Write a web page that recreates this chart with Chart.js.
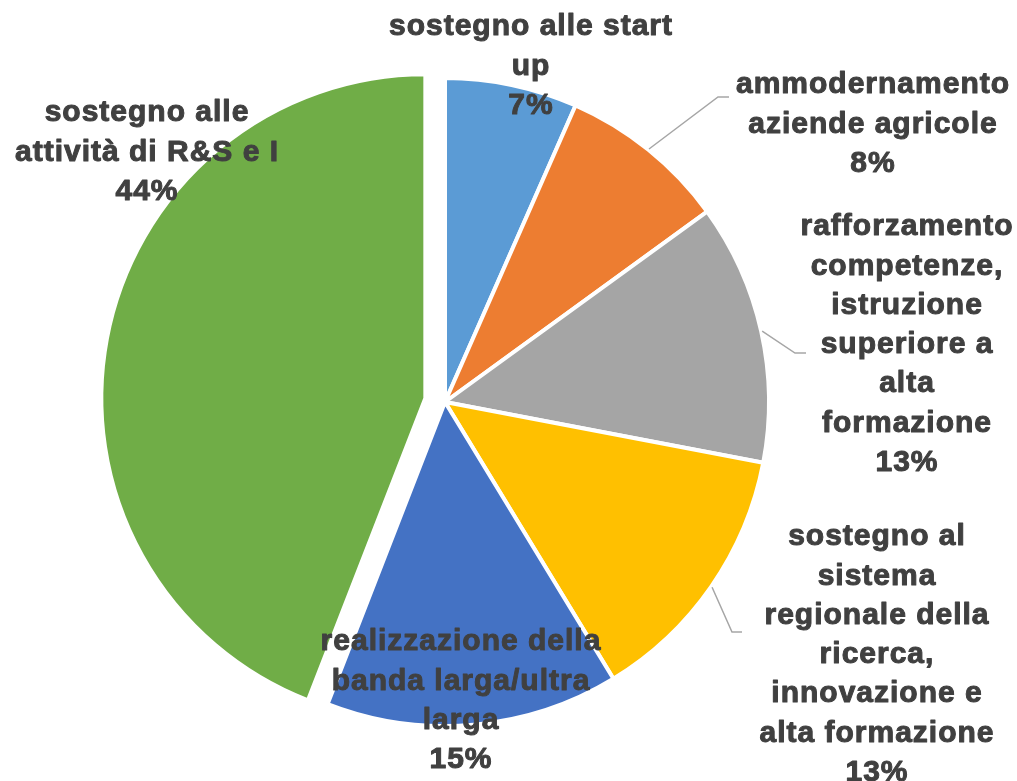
<!DOCTYPE html>
<html lang="it">
  <head>
    <meta charset="UTF-8" />
    <title>Ripartizione risorse</title>
    <script src="https://cdn.jsdelivr.net/npm/chart.js"></script>
    <style>
      body {
        margin: 0;
        background: #fff;
      }
      canvas {
        display: block;
      }
    </style>
  </head>
  <body>
    <canvas id="myChart" width="1017" height="781"></canvas>

    <script>
      // dati
      const categories = [
        ["sostegno alle start", "up"],
        ["ammodernamento", "aziende agricole"],
        ["rafforzamento", "competenze,", "istruzione", "superiore a", "alta", "formazione"],
        ["sostegno al", "sistema", "regionale della", "ricerca,", "innovazione e", "alta formazione"],
        ["realizzazione della", "banda larga/ultra", "larga"],
        ["sostegno alle", "attività di R&S e I"],
      ];
      const values = [6.6, 8.4, 13.0, 13.3, 14.6, 44.1];
      const colors = ["#5B9BD5", "#ED7D31", "#A5A5A5", "#FFC000", "#4472C4", "#70AD47"];

      // spostamento (px) della fetta staccata
      const explode = [0, 0, 0, 0, 0, 20];

      // posizione delle etichette (centro x, y prima riga) e gomito della linea guida
      const labelPos = [
        [531, 27],
        [873, 85],
        [907, 227],
        [877, 537],
        [461, 642],
        [147, 113],
      ];
      const leaders = [null, [718, 97, 729], [795, 353, 806], [732, 632, 742], null, null];

      const total = values.reduce((a, b) => a + b, 0);

      // stacca le fette senza ingrandirle (l'offset di Chart.js ne aumenta il raggio)
      const explodePlugin = {
        id: "explodeSlices",
        afterUpdate(chart) {
          chart.getDatasetMeta(0).data.forEach((arc, i) => {
            if (!explode[i]) return;
            const mid = (arc.startAngle + arc.endAngle) / 2;
            arc.x += Math.cos(mid) * explode[i];
            arc.y += Math.sin(mid) * explode[i];
          });
        },
      };

      const labelPlugin = {
        id: "sliceLabels",
        afterDatasetsDraw(chart) {
          const ctx = chart.ctx;
          const arcs = chart.getDatasetMeta(0).data;
          ctx.save();

          // linee guida
          ctx.strokeStyle = "#A6A6A6";
          ctx.lineWidth = 1.5;
          arcs.forEach((arc, i) => {
            const l = leaders[i];
            if (!l) return;
            const mid = (arc.startAngle + arc.endAngle) / 2;
            const r = arc.outerRadius + 1;
            ctx.beginPath();
            ctx.moveTo(arc.x + Math.cos(mid) * r, arc.y + Math.sin(mid) * r);
            ctx.lineTo(l[0], l[1]);
            ctx.lineTo(l[2], l[1]);
            ctx.stroke();
          });

          // testi
          ctx.fillStyle = "#404040";
          ctx.strokeStyle = "#404040";
          ctx.lineWidth = 1;
          ctx.lineJoin = "round";
          ctx.font = 'bold 30px "Liberation Sans", Arial, sans-serif';
          ctx.letterSpacing = "1px";
          ctx.textAlign = "center";
          ctx.textBaseline = "middle";
          categories.forEach((lines, i) => {
            const pct = Math.round((values[i] / total) * 100) + "%";
            const all = lines.concat([pct]);
            const [x, y] = labelPos[i];
            all.forEach((t, j) => {
              ctx.fillText(t, x, y + j * 39.3);
              ctx.strokeText(t, x, y + j * 39.3);
            });
          });
          ctx.restore();
        },
      };

      new Chart(document.getElementById("myChart"), {
        type: "pie",
        data: {
          labels: categories.map((c) => c.join(" ")),
          datasets: [
            {
              data: values,
              backgroundColor: colors,
              borderColor: "#ffffff",
              borderWidth: 4,
            },
          ],
        },
        options: {
          responsive: false,
          animation: false,
          radius: 324,
          layout: {
            padding: { top: 23, right: 127, left: 0, bottom: 0 },
          },
          plugins: {
            legend: { display: false },
            tooltip: { enabled: false },
          },
        },
        plugins: [explodePlugin, labelPlugin],
      });
    </script>
  </body>
</html>
